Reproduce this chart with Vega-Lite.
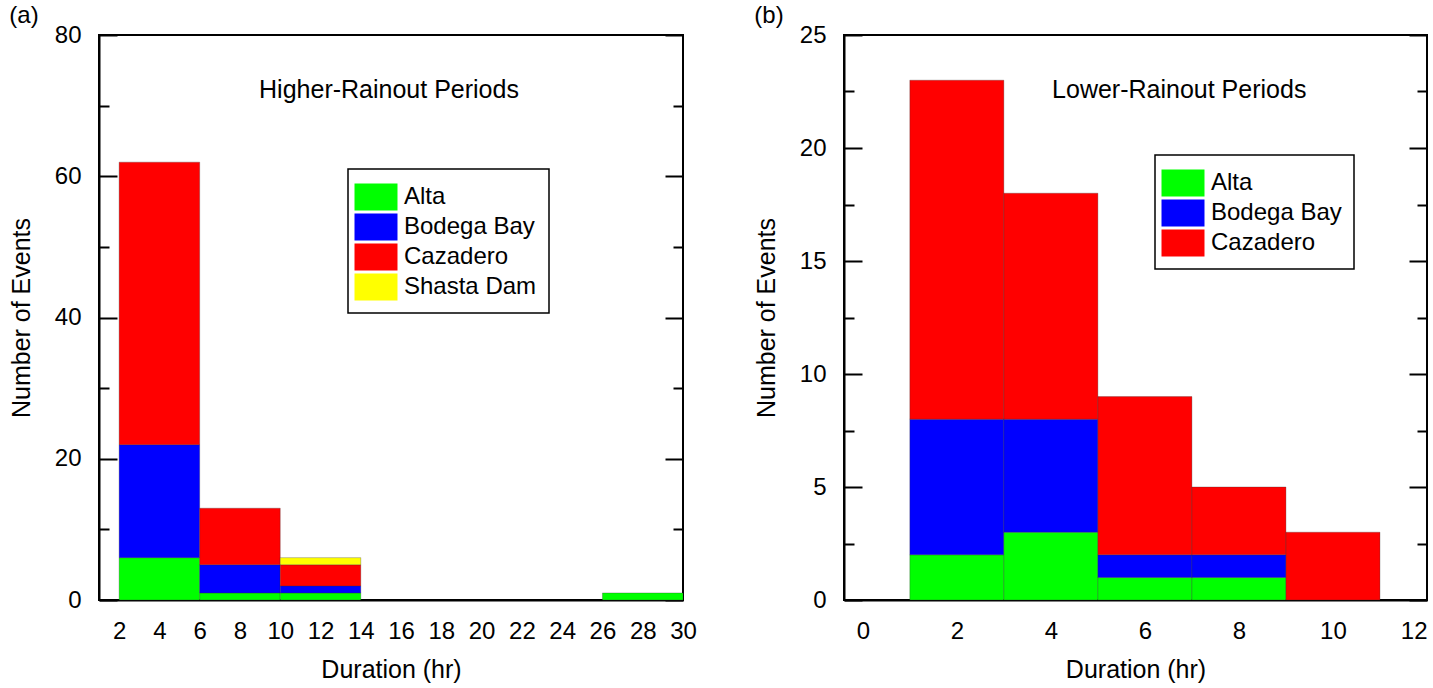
{
  "$schema": "https://vega.github.io/schema/vega-lite/v6.json",
  "background": "white",
  "padding": {"left": 8, "top": 3, "right": 5, "bottom": 2},
  "spacing": 55,
  "config": {
    "font": "Liberation Sans",
    "view": {"stroke": "black", "strokeWidth": 2},
    "axis": {
      "labelFont": "Liberation Sans", "titleFont": "Liberation Sans",
      "labelFontSize": 24, "titleFontSize": 25, "titleFontWeight": "normal",
      "labelColor": "black", "titleColor": "black",
      "domainColor": "black", "domainWidth": 2,
      "tickColor": "black", "tickWidth": 2,
      "grid": false, "labelFlush": false, "labelOverlap": false
    },
    "legend": {
      "labelFont": "Liberation Sans", "labelFontSize": 24, "labelColor": "black",
      "symbolType": "M-1.356,-0.852H1.356V0.852H-1.356Z", "symbolSize": 1005,
      "symbolStrokeWidth": 0, "symbolOpacity": 1,
      "strokeColor": "black", "strokeWidth": 1.5, "fillColor": "white",
      "padding": 12, "labelOffset": 12, "rowPadding": 0
    },
    "title": {"font": "Liberation Sans", "fontSize": 24, "fontWeight": "normal", "color": "black", "anchor": "start", "frame": "bounds", "offset": -5}
  },
  "resolve": {"scale": {"color": "independent"}, "legend": {"color": "independent"}},
  "hconcat": [
    {
      "title": {"text": "(a)"},
      "width": 584,
      "height": 565,
      "resolve": {"axis": {"y": "independent"}},
      "layer": [
        {
          "data": {"values": [
            {"start": 2, "end": 6, "site": "Alta", "count": 6},
            {"start": 2, "end": 6, "site": "Bodega Bay", "count": 16},
            {"start": 2, "end": 6, "site": "Cazadero", "count": 40},
            {"start": 6, "end": 10, "site": "Alta", "count": 1},
            {"start": 6, "end": 10, "site": "Bodega Bay", "count": 4},
            {"start": 6, "end": 10, "site": "Cazadero", "count": 8},
            {"start": 10, "end": 14, "site": "Alta", "count": 1},
            {"start": 10, "end": 14, "site": "Bodega Bay", "count": 1},
            {"start": 10, "end": 14, "site": "Cazadero", "count": 3},
            {"start": 10, "end": 14, "site": "Shasta Dam", "count": 1},
            {"start": 26, "end": 30, "site": "Alta", "count": 1}
          ]},
          "transform": [
            {"stack": "count", "groupby": ["start"], "sort": [{"field": "site", "order": "ascending"}], "as": ["lo", "hi"]}
          ],
          "mark": {"type": "bar", "stroke": "#333", "strokeWidth": 0.6, "strokeOpacity": 0.5},
          "encoding": {
            "x": {
              "field": "start", "type": "quantitative",
              "scale": {"domain": [1, 30], "nice": false, "zero": false},
              "axis": {"values": [2, 4, 6, 8, 10, 12, 14, 16, 18, 20, 22, 24, 26, 28, 30], "ticks": false, "labelPadding": 19, "title": "Duration (hr)", "titlePadding": 14}
            },
            "x2": {"field": "end"},
            "y": {
              "field": "lo", "type": "quantitative",
              "scale": {"domain": [0, 80], "nice": false},
              "axis": {
                "values": [0, 10, 20, 30, 40, 50, 60, 70, 80],
                "labelExpr": "datum.value % 20 === 0 ? datum.label : ''",
                "tickSize": {"condition": {"test": "datum.value % 20 === 0", "value": -18}, "value": -10},
                "labelPadding": 36, "title": "Number of Events", "titlePadding": 20
              }
            },
            "y2": {"field": "hi"},
            "color": {
              "field": "site", "type": "nominal",
              "scale": {"domain": ["Alta", "Bodega Bay", "Cazadero", "Shasta Dam"], "range": ["#00ff00", "#0000ff", "#ff0000", "#ffff00"]},
              "legend": {"orient": "none", "legendX": 249, "legendY": 134, "title": null}
            }
          }
        },
        {
          "data": {"values": [{"label": "Higher-Rainout Periods"}]},
          "mark": {"type": "text", "fontSize": 25, "align": "center", "baseline": "middle", "color": "black"},
          "encoding": {
            "x": {
              "datum": 15.4, "type": "quantitative",
              "axis": {"values": [2, 4, 6, 8, 10, 12, 14, 16, 18, 20, 22, 24, 26, 28, 30], "ticks": false, "labelPadding": 19, "title": "Duration (hr)", "titlePadding": 14}
            },
            "y": {
              "datum": 72.2, "type": "quantitative",
              "axis": {
                "orient": "right", "values": [0, 10, 20, 30, 40, 50, 60, 70, 80],
                "labels": false, "domain": false, "title": null,
                "tickSize": {"condition": {"test": "datum.value % 20 === 0", "value": -18}, "value": -10}
              }
            },
            "text": {"field": "label"}
          }
        }
      ]
    },
    {
      "title": {"text": "(b)"},
      "width": 583,
      "height": 565,
      "resolve": {"axis": {"y": "independent"}},
      "layer": [
        {
          "data": {"values": [
            {"start": 1, "end": 3, "site": "Alta", "count": 2},
            {"start": 1, "end": 3, "site": "Bodega Bay", "count": 6},
            {"start": 1, "end": 3, "site": "Cazadero", "count": 15},
            {"start": 3, "end": 5, "site": "Alta", "count": 3},
            {"start": 3, "end": 5, "site": "Bodega Bay", "count": 5},
            {"start": 3, "end": 5, "site": "Cazadero", "count": 10},
            {"start": 5, "end": 7, "site": "Alta", "count": 1},
            {"start": 5, "end": 7, "site": "Bodega Bay", "count": 1},
            {"start": 5, "end": 7, "site": "Cazadero", "count": 7},
            {"start": 7, "end": 9, "site": "Alta", "count": 1},
            {"start": 7, "end": 9, "site": "Bodega Bay", "count": 1},
            {"start": 7, "end": 9, "site": "Cazadero", "count": 3},
            {"start": 9, "end": 11, "site": "Cazadero", "count": 3}
          ]},
          "transform": [
            {"stack": "count", "groupby": ["start"], "sort": [{"field": "site", "order": "ascending"}], "as": ["lo", "hi"]}
          ],
          "mark": {"type": "bar", "stroke": "#333", "strokeWidth": 0.6, "strokeOpacity": 0.5},
          "encoding": {
            "x": {
              "field": "start", "type": "quantitative",
              "scale": {"domain": [-0.4, 12], "nice": false, "zero": false},
              "axis": {
                "values": [0, 2, 4, 6, 8, 10, 12], "ticks": false, "labelPadding": 19, "title": "Duration (hr)", "titlePadding": 14,
                "labelAlign": {"condition": {"test": "datum.value === 12", "value": "right"}, "value": "center"}
              }
            },
            "x2": {"field": "end"},
            "y": {
              "field": "lo", "type": "quantitative",
              "scale": {"domain": [0, 25], "nice": false},
              "axis": {
                "values": [0, 2.5, 5, 7.5, 10, 12.5, 15, 17.5, 20, 22.5, 25],
                "labelExpr": "datum.value % 5 === 0 ? datum.label : ''",
                "tickSize": {"condition": {"test": "datum.value % 5 === 0", "value": -18}, "value": -10},
                "labelPadding": 36, "title": "Number of Events", "titlePadding": 20
              }
            },
            "y2": {"field": "hi"},
            "color": {
              "field": "site", "type": "nominal",
              "scale": {"domain": ["Alta", "Bodega Bay", "Cazadero"], "range": ["#00ff00", "#0000ff", "#ff0000"]},
              "legend": {"orient": "none", "legendX": 311, "legendY": 120, "title": null}
            }
          }
        },
        {
          "data": {"values": [{"label": "Lower-Rainout Periods"}]},
          "mark": {"type": "text", "fontSize": 25, "align": "center", "baseline": "middle", "color": "black"},
          "encoding": {
            "x": {
              "datum": 6.73, "type": "quantitative",
              "axis": {
                "values": [0, 2, 4, 6, 8, 10, 12], "ticks": false, "labelPadding": 19, "title": "Duration (hr)", "titlePadding": 14,
                "labelAlign": {"condition": {"test": "datum.value === 12", "value": "right"}, "value": "center"}
              }
            },
            "y": {
              "datum": 22.57, "type": "quantitative",
              "axis": {
                "orient": "right", "values": [0, 2.5, 5, 7.5, 10, 12.5, 15, 17.5, 20, 22.5, 25],
                "labels": false, "domain": false, "title": null,
                "tickSize": {"condition": {"test": "datum.value % 5 === 0", "value": -18}, "value": -10}
              }
            },
            "text": {"field": "label"}
          }
        }
      ]
    }
  ]
}
